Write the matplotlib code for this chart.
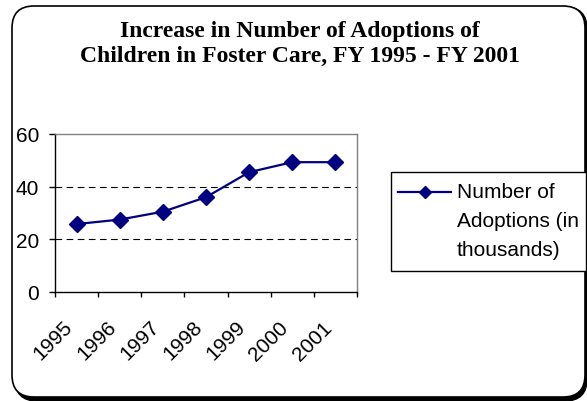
import numpy as np
import matplotlib
matplotlib.use('Agg')
import matplotlib.pyplot as plt
import matplotlib.patches as mpatches
import matplotlib.transforms as mtransforms
from matplotlib.lines import Line2D

# data (thousands of adoptions)
years = ['1995', '1996', '1997', '1998', '1999', '2000', '2001']
adoptions = [25.8, 27.5, 30.5, 36.0, 45.5, 49.3, 49.3]
y_ticks = [0, 20, 40, 60]
series_label = 'Number of\nAdoptions (in\nthousands)'
title = 'Increase in Number of Adoptions of\nChildren in Foster Care, FY 1995 - FY 2001'

NAVY = '#000080'
W, H = 587, 402

fig = plt.figure(figsize=(W / 100, H / 100), dpi=100)
fig.patch.set_facecolor('white')

# --- rounded chart border with shadow (pixel coords) ---
shadow = mpatches.FancyBboxPatch((15, 0), 572, 394,
                                 boxstyle='round,pad=0,rounding_size=22',
                                 transform=None, facecolor='black',
                                 edgecolor='black', lw=1, zorder=0)
frame = mpatches.FancyBboxPatch((12, 4), 573, 391,
                                boxstyle='round,pad=0,rounding_size=22',
                                transform=None, facecolor='white',
                                edgecolor='black', lw=1.2, zorder=1)
fig.patches.extend([shadow, frame])

fig.text(300 / W, 1 - 44 / H, title, ha='center', va='center',
         family='Liberation Serif', fontweight='bold', fontsize=17,
         linespacing=1.2)

# --- plot area ---
ax = fig.add_axes([55 / W, 1 - 293 / H, 302 / W, 158 / H])
ax.set_zorder(2)
x = np.arange(len(years))
ax.plot(x, adoptions, color=NAVY, lw=1.6, marker='D', markersize=8,
        markerfacecolor=NAVY, markeredgecolor=NAVY, clip_on=False, zorder=3)

ax.set_xlim(-0.5, len(years) - 0.5)
ax.set_ylim(0, 60)
ax.set_yticks(y_ticks)
ax.set_yticklabels([str(v) for v in y_ticks], family='Liberation Sans', fontsize=15)
for v in y_ticks[1:-1]:
    ax.axhline(v, color='black', lw=0.8, ls=(0, (6, 4)), zorder=1)

ax.set_xticks(x)
ax.set_xticklabels(years, rotation=45, ha='right', va='top',
                   family='Liberation Sans', fontsize=15)
shift = mtransforms.ScaledTranslation(-8 / 100, 0, fig.dpi_scale_trans)
for lbl in ax.get_xticklabels():
    lbl.set_transform(lbl.get_transform() + shift)
ax.set_xticks(np.arange(-0.5, len(years)), minor=True)
ax.tick_params(axis='x', which='major', length=0, pad=18)
ax.tick_params(axis='x', which='minor', length=3.6, width=1, direction='out')
ax.tick_params(axis='y', length=4.3, width=1, direction='out', pad=7)

ax.spines['left'].set_color('black')
ax.spines['bottom'].set_color('black')
ax.spines['top'].set_color('#808080')
ax.spines['right'].set_color('#808080')
for s in ax.spines.values():
    s.set_linewidth(1)

# --- legend box drawn in pixel coords ---
leg_box = mpatches.Rectangle((391, H - 272), 195, 99, transform=None,
                             facecolor='white', edgecolor='black', lw=1, zorder=3)
fig.patches.append(leg_box)
fig.lines.append(Line2D([398, 424.5, 451], [H - 193] * 3, transform=None,
                        color=NAVY, lw=1.6, marker='D', markersize=6,
                        markevery=[1], zorder=4))
fig.text(457 / W, 1 - 183 / H, series_label, ha='left', va='top',
         family='Liberation Sans', fontsize=15, linespacing=1.68, zorder=4)

fig.savefig('out.png', dpi=100, facecolor='white')
